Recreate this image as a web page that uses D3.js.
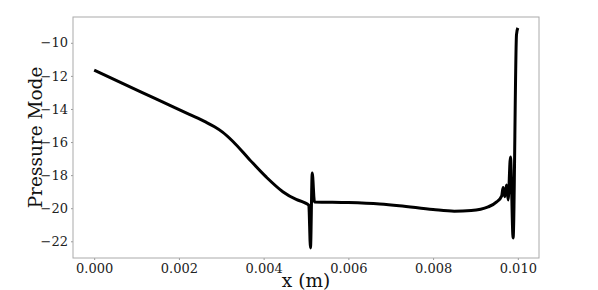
<!DOCTYPE html>
<html>
<head>
<meta charset="utf-8">
<script src="https://cdn.jsdelivr.net/npm/d3@7"></script>
<style>
  body { margin: 0; background: #fff; }
  .axis text { font-family: "DejaVu Serif", serif; font-size: 13px; fill: #222; }
  .axis line { stroke: #999; }
  .axis .domain { display: none; }
  .lbl { font-family: "DejaVu Serif", serif; font-size: 18.5px; fill: #111; }
</style>
</head>
<body>
<script>
// pressure mode along x (m)
var xs = [0, 0.000669, 0.001459, 0.002246, 0.00264, 0.00284, 0.00303, 0.00327, 0.003664,
          0.004059, 0.004452, 0.004768, 0.00495, 0.005066, 0.005106, 0.005147, 0.0052,
          0.006, 0.00674, 0.0072, 0.008, 0.0085, 0.0089, 0.0093, 0.0095, 0.00962,
          0.009653, 0.009693, 0.009733, 0.009771, 0.009827, 0.009889, 0.009969, 0.01];
var ys = [-11.65, -12.45, -13.39, -14.33, -14.8, -15.08, -15.4, -15.95, -17.05,
          -18.11, -19.0, -19.47, -19.65, -19.82, -22.4, -17.87, -19.62,
          -19.66, -19.75, -19.85, -20.08, -20.18, -20.14, -19.92, -19.62, -19.25,
          -18.75, -19.3, -18.6, -19.5, -16.9, -21.8, -9.5, -9.1];
var xTicks = [0, 0.002, 0.004, 0.006, 0.008, 0.010],
    yTicks = [-22, -20, -18, -16, -14, -12, -10];

var W = 598, H = 290,
    m = { t:17, r:59, b:32, l:73 },
    w = W - m.l - m.r,
    h = H - m.t - m.b;

var svg = d3.select("body").append("svg")
    .attr("width", W)
    .attr("height", H);

var g = svg.append("g")
    .attr("transform", "translate(" + m.l + "," + m.t + ")");

var data = xs.map(function(x, i) { return { x: x, y: ys[i] }; });

// matplotlib style 5% padding
var xScale = d3.scaleLinear().domain([-0.0005, 0.0105]).range([0, w]),
    yScale = d3.scaleLinear().domain([-23.01, -8.44]).range([h, 0]);

g.append("g")
    .attr("class", "axis")
    .attr("transform", "translate(0," + h + ")")
    .call(d3.axisBottom(xScale).tickValues(xTicks).tickSize(2).tickPadding(4)
      .tickFormat(d3.format(".3f")));

g.append("g")
    .attr("class", "axis")
    .call(d3.axisLeft(yScale).tickValues(yTicks).tickSize(2).tickPadding(3)
      .tickFormat(function(d) { return String(d).replace("-", "\u2212"); }));

g.append("rect")
    .attr("width", w)
    .attr("height", h)
    .attr("fill", "none")
    .attr("stroke", "#aaa")
    .attr("stroke-width", 1);

var line = d3.line()
    .curve(d3.curveMonotoneX)
    .x(function(d) { return xScale(d.x); })
    .y(function(d) { return yScale(d.y); });

g.append("path")
    .datum(data)
    .attr("d", line)
    .attr("fill", "none")
    .attr("stroke", "#000")
    .attr("stroke-width", 3)
    .attr("stroke-linejoin", "round");

svg.append("text")
    .attr("class", "lbl")
    .attr("x", m.l + w / 2)
    .attr("y", 287)
    .attr("text-anchor", "middle")
    .text("x (m)");

svg.append("text")
    .attr("class", "lbl")
    .attr("transform", "translate(42," + (m.t + h / 2) + ") rotate(-90)")
    .attr("text-anchor", "middle")
    .text("Pressure Mode");
</script>
</body>
</html>
